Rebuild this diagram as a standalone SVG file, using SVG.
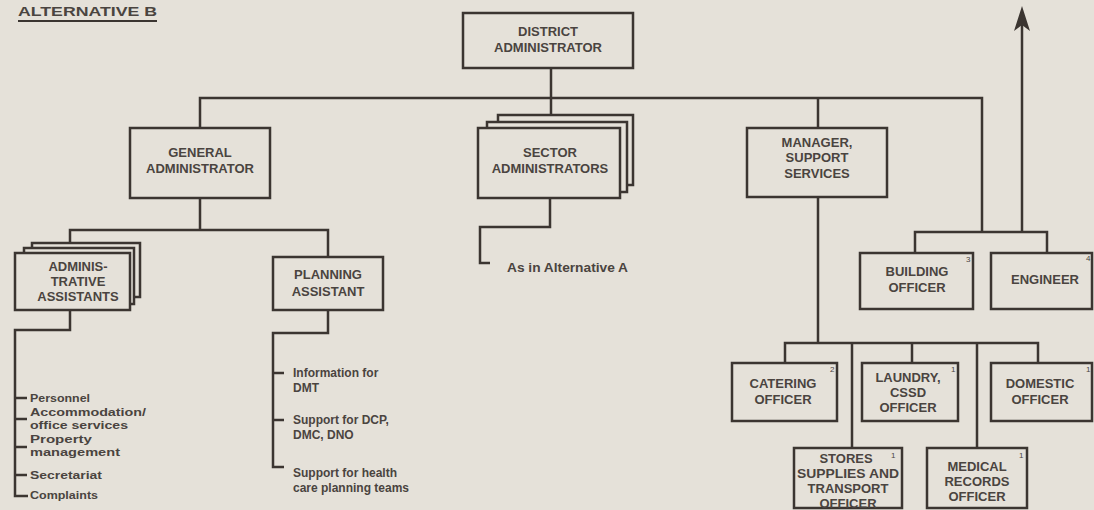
<svg xmlns="http://www.w3.org/2000/svg" width="1094" height="510" viewBox="0 0 1094 510">
<style>
.bg{fill:#e5e1d9}
.box{fill:#e5e1d9;stroke:#3b3531;stroke-width:2.5}
.ln{fill:none;stroke:#3b3531;stroke-width:2.5;stroke-linejoin:miter}
.t{font-family:"Liberation Sans",Arial,sans-serif;font-weight:bold;font-size:13px;fill:#4a4440;text-anchor:middle}
.l{font-family:"Liberation Sans",Arial,sans-serif;font-weight:bold;font-size:12px;fill:#4a4440}
.ls{font-family:"Liberation Sans",Arial,sans-serif;font-weight:bold;font-size:11px;fill:#4a4440}
.s{font-family:"Liberation Sans",Arial,sans-serif;font-size:8px;fill:#4a4440}
</style>
<rect class="bg" x="0" y="0" width="1094" height="510"/>
<g id="title">
<text class="l" x="18" y="16" font-size="13" textLength="139" lengthAdjust="spacingAndGlyphs">ALTERNATIVE B</text>
<line x1="18" y1="21" x2="157" y2="21" stroke="#3b3531" stroke-width="2"/>
</g>
<g id="connectors">
<path class="ln" d="M551,68 V115"/>
<path class="ln" d="M200,128 V98 H982 V232"/>
<path class="ln" d="M818,98 V128"/>
<path class="ln" d="M200,198 V230 M70,253 V230 H328 V257"/>
<path class="ln" d="M550,198 V227 H480 V263 H490"/>
<path class="ln" d="M70,310 V330 H15 V496 H28 M15,398 H27 M15,419 H27 M15,447 H27 M15,475 H27"/>
<path class="ln" d="M328,310 V333 H273 V467 H284 M273,373 H284 M273,420 H284"/>
<path class="ln" d="M1022,232 V22"/>
<path d="M1022,6 L1030,31 L1022,25 L1014,31 Z" fill="#3b3531"/>
<path class="ln" d="M915,253 V232 H1047 V253"/>
<path class="ln" d="M818,197 V343 M785,363 V343 H1038 V363 M912,343 V363 M852,343 V448 M977,343 V448"/>
</g>
<g id="district">
<rect class="box" x="463" y="13" width="170" height="55"/>
<text class="t" x="548" y="36">DISTRICT</text>
<text class="t" x="548" y="52">ADMINISTRATOR</text>
</g>
<g id="general">
<rect class="box" x="130" y="128" width="140" height="70"/>
<text class="t" x="200" y="157">GENERAL</text>
<text class="t" x="200" y="173">ADMINISTRATOR</text>
</g>
<g id="sector">
<rect class="box" x="498" y="115" width="135" height="70"/>
<rect class="box" x="487" y="122" width="140" height="70"/>
<rect class="box" x="478" y="128" width="142" height="70"/>
<text class="t" x="550" y="157">SECTOR</text>
<text class="t" x="550" y="173">ADMINISTRATORS</text>
</g>
<g id="manager">
<rect class="box" x="747" y="128" width="140" height="69"/>
<text class="t" x="817" y="147">MANAGER,</text>
<text class="t" x="817" y="162">SUPPORT</text>
<text class="t" x="817" y="178">SERVICES</text>
</g>
<g id="admin-assistants">
<rect class="box" x="32" y="243" width="108" height="54"/>
<rect class="box" x="24" y="248" width="110" height="56"/>
<rect class="box" x="15" y="253" width="115" height="57"/>
<text class="t" x="78" y="271">ADMINIS-</text>
<text class="t" x="78" y="286">TRATIVE</text>
<text class="t" x="78" y="301">ASSISTANTS</text>
</g>
<g id="planning">
<rect class="box" x="273" y="257" width="110" height="53"/>
<text class="t" x="328" y="279">PLANNING</text>
<text class="t" x="328" y="296">ASSISTANT</text>
</g>
<g id="admin-list">
<text class="ls" x="30" y="402" textLength="60" lengthAdjust="spacingAndGlyphs">Personnel</text>
<text class="ls" x="30" y="416" textLength="116" lengthAdjust="spacingAndGlyphs">Accommodation/</text>
<text class="ls" x="30" y="429" textLength="98" lengthAdjust="spacingAndGlyphs">office services</text>
<text class="ls" x="30" y="443" textLength="62" lengthAdjust="spacingAndGlyphs">Property</text>
<text class="ls" x="30" y="456" textLength="90" lengthAdjust="spacingAndGlyphs">management</text>
<text class="ls" x="30" y="479" textLength="72" lengthAdjust="spacingAndGlyphs">Secretariat</text>
<text class="ls" x="30" y="499" textLength="68" lengthAdjust="spacingAndGlyphs">Complaints</text>
</g>
<g id="planning-list">
<text class="l" x="293" y="377">Information for</text>
<text class="l" x="293" y="392">DMT</text>
<text class="l" x="293" y="424">Support for DCP,</text>
<text class="l" x="293" y="439">DMC, DNO</text>
<text class="l" x="293" y="477">Support for health</text>
<text class="l" x="293" y="492">care planning teams</text>
</g>
<g id="as-in-a">
<text class="l" x="507" y="272" font-size="13" textLength="121" lengthAdjust="spacingAndGlyphs">As in Alternative A</text>
</g>
<g id="building">
<rect class="box" x="860" y="253" width="113" height="56"/>
<text class="t" x="917" y="276">BUILDING</text>
<text class="t" x="917" y="292">OFFICER</text>
<text class="s" x="966" y="262">3</text>
</g>
<g id="engineer">
<rect class="box" x="991" y="253" width="101" height="56"/>
<text class="t" x="1045" y="284">ENGINEER</text>
<text class="s" x="1086" y="261">4</text>
</g>
<g id="catering">
<rect class="box" x="732" y="363" width="105" height="58"/>
<text class="t" x="783" y="388">CATERING</text>
<text class="t" x="783" y="404">OFFICER</text>
<text class="s" x="830" y="372">2</text>
</g>
<g id="laundry">
<rect class="box" x="862" y="363" width="96" height="58"/>
<text class="t" x="908" y="382">LAUNDRY,</text>
<text class="t" x="908" y="397">CSSD</text>
<text class="t" x="908" y="412">OFFICER</text>
<text class="s" x="951" y="372">1</text>
</g>
<g id="domestic">
<rect class="box" x="991" y="363" width="101" height="58"/>
<text class="t" x="1040" y="388">DOMESTIC</text>
<text class="t" x="1040" y="404">OFFICER</text>
<text class="s" x="1086" y="372">1</text>
</g>
<g id="stores">
<rect class="box" x="794" y="448" width="108" height="60"/>
<text class="t" x="846" y="463">STORES</text>
<text class="t" x="848" y="478" textLength="102" lengthAdjust="spacingAndGlyphs">SUPPLIES AND</text>
<text class="t" x="848" y="493">TRANSPORT</text>
<text class="t" x="848" y="508">OFFICER</text>
<text class="s" x="891" y="458">1</text>
</g>
<g id="medical">
<rect class="box" x="927" y="448" width="100" height="60"/>
<text class="t" x="977" y="471">MEDICAL</text>
<text class="t" x="977" y="486">RECORDS</text>
<text class="t" x="977" y="501">OFFICER</text>
<text class="s" x="1019" y="458">1</text>
</g>
</svg>
